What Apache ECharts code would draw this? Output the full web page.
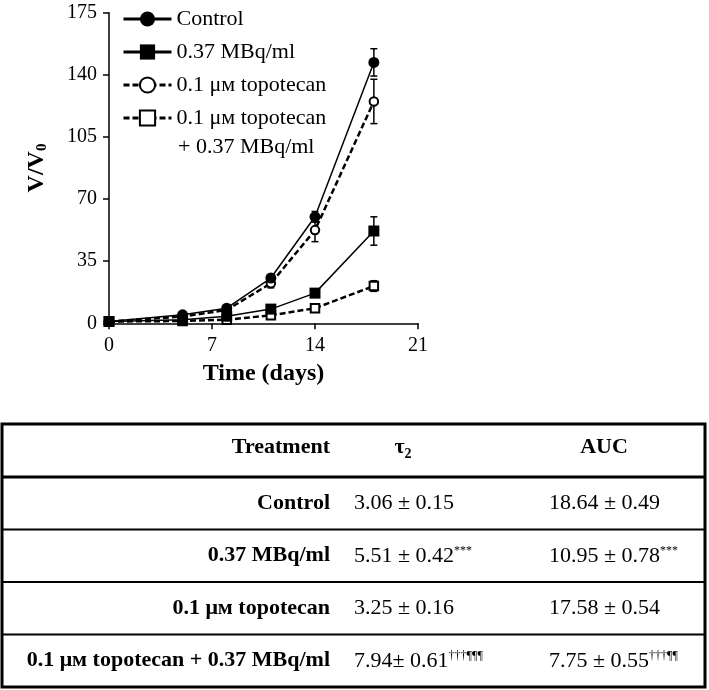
<!DOCTYPE html>
<html><head><meta charset="utf-8">
<script src="https://cdn.jsdelivr.net/npm/echarts@6/dist/echarts.min.js"></script>
<style>html,body{margin:0;padding:0;background:#fff}#c{width:709px;height:690px}</style>
</head><body><div id="c"></div>
<script>
// ---- data ----
const days = [0, 5, 8, 11, 14, 18];
const seriesNames = ['Control', '0.37 MBq/ml', '0.1 μм topotecan', '0.1 μм topotecan + 0.37 MBq/ml'];
const controlValues = [1, 4.8, 8.5, 25.5, 60, 147];
const controlErrors = [0, 0.5, 1, 2, 3, 7.7];
const mbqValues = [1, 2, 4, 8, 17, 52];
const mbqErrors = [0, 0.3, 0.5, 1, 1.5, 8];
const topoValues = [1, 3.8, 7.5, 22.5, 52.5, 125];
const topoErrors = [0, 0.4, 1, 2.5, 6.5, 12.5];
const comboValues = [1, 1.3, 2, 4.5, 8.5, 21];
const comboErrors = [0, 0.2, 0.4, 0.6, 1.5, 3];
const xTicks = [0, 7, 14, 21];
const yTicks = [0, 35, 70, 105, 140, 175];

const tableHeaders = ['Treatment', 'τ2', 'AUC'];
const tableTreatments = seriesNames.slice();
const tau2Values = ['3.06 ± 0.15', '5.51 ± 0.42', '3.25 ± 0.16', '7.94± 0.61'];
const tau2Marks = ['', '***', '', '†††¶¶¶'];
const aucValues = ['18.64 ± 0.49', '10.95 ± 0.78', '17.58 ± 0.54', '7.75 ± 0.55'];
const aucMarks = ['', '***', '', '†††¶¶'];

// ---- chart ----
const FONT = 'Liberation Serif';
const chart = echarts.init(document.getElementById('c'), null, {renderer: 'canvas'});

function pairs(vals) { return days.map((d, i) => [d, vals[i]]); }
function errData(vals, errs) { return days.map((d, i) => [d, vals[i] - errs[i], vals[i] + errs[i]]); }
function errSeries(vals, errs) {
  return {
    type: 'custom', data: errData(vals, errs), encode: {x: 0, y: [1, 2]}, z: 1, silent: true, clip: false,
    renderItem: function (params, api) {
      const x = api.value(0);
      const lo = api.coord([x, api.value(1)]);
      const hi = api.coord([x, api.value(2)]);
      const hw = 3.5;
      const st = {stroke: '#000', lineWidth: 1.5};
      return {type: 'group', children: [
        {type: 'line', shape: {x1: lo[0], y1: lo[1], x2: hi[0], y2: hi[1]}, style: st},
        {type: 'line', shape: {x1: lo[0] - hw, y1: lo[1], x2: lo[0] + hw, y2: lo[1]}, style: st},
        {type: 'line', shape: {x1: hi[0] - hw, y1: hi[1], x2: hi[0] + hw, y2: hi[1]}, style: st}
      ]};
    }
  };
}
function lineSeries(name, vals, symbol, size, dashed) {
  return {
    name: name, type: 'line', data: pairs(vals), symbol: symbol, symbolSize: size, z: dashed ? 3 : 4,
    lineStyle: {color: '#000', width: dashed ? 2.5 : 1.5, type: dashed ? [6, 3] : 'solid'},
    itemStyle: {color: '#000', borderWidth: 1.5}
  };
}

// table layout
const tblLeft = 2, tblRight = 705, tblTop = 424, headerH = 53, rowH = 52.5;
const col1Right = 330, col2Left = 354, col3Left = 549, tauCenter = 403, aucCenter = 604;
const graphics = [];
graphics.push({type: 'text', left: 178, top: 136, style: {text: '+ 0.37 MBq/ml', fontFamily: FONT, fontSize: 22, fill: '#000'}});
const tblBottom = tblTop + headerH + rowH * tableTreatments.length;
graphics.push({type: 'rect', shape: {x: tblLeft, y: tblTop, width: tblRight - tblLeft, height: tblBottom - tblTop}, style: {fill: 'none', stroke: '#000', lineWidth: 3}});
for (let i = 0; i < tableTreatments.length; i++) {
  const y = tblTop + headerH + rowH * i;
  graphics.push({type: 'line', shape: {x1: tblLeft, y1: y, x2: tblRight, y2: y}, style: {stroke: '#000', lineWidth: i === 0 ? 3 : 2}});
}
const hy = tblTop + headerH / 2 - 3;
const boldStyle = {fontFamily: FONT, fontWeight: 'bold', fontSize: 22, fill: '#000'};
graphics.push({type: 'text', x: col1Right, y: hy, style: Object.assign({text: tableHeaders[0], align: 'right', verticalAlign: 'middle'}, boldStyle)});
graphics.push({type: 'text', x: tauCenter, y: hy, style: {text: '{t|' + tableHeaders[1][0] + '}{s|' + tableHeaders[1].slice(1) + '}', align: 'center', verticalAlign: 'middle',
  rich: {t: {fontFamily: FONT, fontWeight: 'bold', fontSize: 22, fill: '#000'}, s: {fontFamily: FONT, fontWeight: 'bold', fontSize: 14, fill: '#000', padding: [14, 0, 0, 0]}}}});
graphics.push({type: 'text', x: aucCenter, y: hy, style: Object.assign({text: tableHeaders[2], align: 'center', verticalAlign: 'middle'}, boldStyle)});
const valRich = {v: {fontFamily: FONT, fontSize: 22, fill: '#000'}, s: {fontFamily: FONT, fontSize: 12, fill: '#000', verticalAlign: 'top'}};
for (let i = 0; i < tableTreatments.length; i++) {
  const cy = tblTop + headerH + rowH * i + rowH / 2;
  graphics.push({type: 'text', x: col1Right, y: cy, style: Object.assign({text: tableTreatments[i], align: 'right', verticalAlign: 'middle'}, boldStyle)});
  graphics.push({type: 'text', x: col2Left, y: cy, style: {text: '{v|' + tau2Values[i] + '}' + (tau2Marks[i] ? '{s|' + tau2Marks[i] + '}' : ''), align: 'left', verticalAlign: 'middle', rich: valRich}});
  graphics.push({type: 'text', x: col3Left, y: cy, style: {text: '{v|' + aucValues[i] + '}' + (aucMarks[i] ? '{s|' + aucMarks[i] + '}' : ''), align: 'left', verticalAlign: 'middle', rich: valRich}});
}

const axisBase = {
  axisLine: {show: true, lineStyle: {color: '#000', width: 1.5}},
  axisTick: {show: true, length: 6, lineStyle: {color: '#000', width: 1.5}},
  splitLine: {show: false},
  axisLabel: {fontFamily: FONT, fontSize: 20, color: '#000', margin: 12}
};

chart.setOption({
  animation: false,
  backgroundColor: '#fff',
  grid: {left: 109, right: 291, top: 12.7, bottom: 366.7, containLabel: false, outerBoundsMode: 'none'},
  xAxis: Object.assign({
    type: 'value', min: xTicks[0], max: xTicks[xTicks.length - 1], interval: xTicks[1] - xTicks[0],
    name: 'Time (days)', nameLocation: 'middle', nameGap: 38,
    nameTextStyle: {fontFamily: FONT, fontWeight: 'bold', fontSize: 24, color: '#000'}
  }, axisBase),
  yAxis: Object.assign({
    type: 'value', min: yTicks[0], max: yTicks[yTicks.length - 1], interval: yTicks[1] - yTicks[0],
    name: '{a|V/V}{b|0}', nameLocation: 'middle', nameRotate: 90, nameGap: 59,
    nameTextStyle: {rich: {
      a: {fontFamily: FONT, fontWeight: 'bold', fontSize: 24, color: '#000'},
      b: {fontFamily: FONT, fontWeight: 'bold', fontSize: 15, color: '#000', padding: [12, 0, 0, 0]}
    }}
  }, axisBase),
  legend: {
    orient: 'vertical', left: 122, top: 8, padding: 0, itemWidth: 48, itemHeight: 19, itemGap: 11,
    selectedMode: false, data: seriesNames,
    formatter: function (n) { return n.split(' + ')[0]; },
    textStyle: {fontFamily: FONT, fontSize: 22, color: '#000', lineHeight: 22},
    lineStyle: {width: 3}
  },
  graphic: graphics,
  series: [
    errSeries(controlValues, controlErrors),
    errSeries(mbqValues, mbqErrors),
    errSeries(topoValues, topoErrors),
    errSeries(comboValues, comboErrors),
    lineSeries(seriesNames[0], controlValues, 'circle', 11, false),
    lineSeries(seriesNames[1], mbqValues, 'rect', 11, false),
    lineSeries(seriesNames[2], topoValues, 'emptyCircle', 8.5, true),
    lineSeries(seriesNames[3], comboValues, 'emptyRect', 8.5, true)
  ]
});
</script></body></html>
